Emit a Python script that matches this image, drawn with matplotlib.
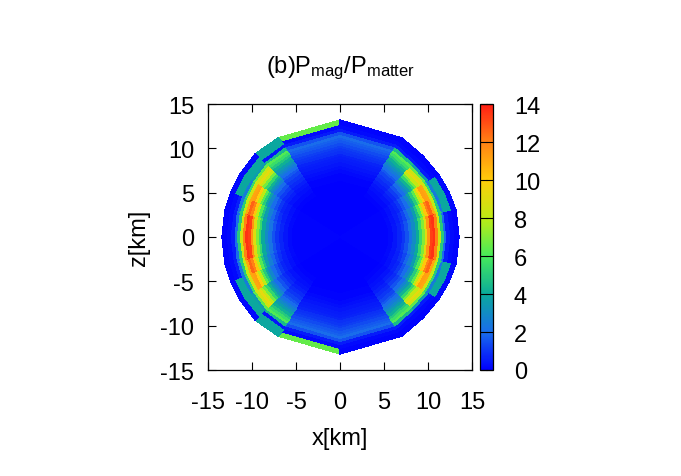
import matplotlib
matplotlib.use("Agg")
import matplotlib.pyplot as plt
import numpy as np
from matplotlib.colors import LinearSegmentedColormap

plt.rcParams['font.family'] = ['Liberation Sans', 'DejaVu Sans']
plt.rcParams['mathtext.fontset'] = 'custom'
plt.rcParams['mathtext.rm'] = 'Liberation Sans'
plt.rcParams['mathtext.default'] = 'regular'
plt.rcParams['axes.unicode_minus'] = False

# wedge edges, degrees from the z axis
theta_edges = [0, 32, 46, 58, 68, 77, 90]
# layer edges in km
r_edges = [0, 5.5, 6, 6.5, 7, 7.4, 7.8, 8.2, 8.6, 9, 9.3, 9.6, 9.9, 10.2, 10.5,
           10.8, 11.1, 11.4, 11.7, 12.0, 12.4, 12.85, 13.3]
# surface radius at each wedge edge
surface_left = [13.2, 13.2, 13.4, 13.4, 13.4, 13.4, 13.4]
surface_right = [13.2, 13.2, 13.1, 13.3, 13.4, 13.5, 13.5]

# inner layers, one row per wedge (pole to equator)
core = [
    [0.0, 0.0, 0.05, 0.1, 0.1, 0.2, 0.3, 0.4, 0.5, 0.6, 0.7, 0.9, 1.0, 1.2, 1.4, 1.6, 1.8, 2.0, 1.5],
    [0.05, 0.1, 0.2, 0.3, 0.4, 0.6, 0.8, 1.0, 1.3, 1.6, 2.0, 2.5, 3.0, 3.6, 4.2, 4.9, 5.6, 6.2, 4.5],
    [0.05, 0.1, 0.2, 0.35, 0.6, 0.8, 1.1, 1.5, 2.0, 2.7, 3.4, 4.3, 5.4, 6.8, 8.2, 9.2, 8.5, 6.5, 3.5],
    [0.1, 0.15, 0.3, 0.5, 0.7, 1.0, 1.5, 2.0, 2.8, 3.8, 5.0, 6.3, 8.0, 10.0, 11.2, 11.0, 8.5, 5.5, 2.5],
    [0.1, 0.2, 0.35, 0.6, 0.9, 1.3, 1.9, 2.6, 3.6, 4.8, 6.2, 8.0, 10.2, 12.0, 12.6, 11.0, 8.0, 5.0, 2.2],
    [0.1, 0.2, 0.4, 0.7, 1.0, 1.5, 2.2, 3.0, 4.0, 5.5, 7.0, 9.0, 11.5, 13.3, 13.6, 12.0, 8.5, 5.0, 2.0],
]
# outer three layers, one row per wedge
shell_left = [
    [0.5, 0.2, 6.5],
    [0.4, 3.9, 3.9],
    [3.9, 3.9, 0.2],
    [3.9, 3.9, 0.2],
    [0.6, 0.2, 0.1],
    [0.5, 0.2, 0.1],
]
shell_right = [
    [0.5, 0.2, 0.1],
    [0.6, 0.2, 0.1],
    [0.5, 0.2, 0.1],
    [3.9, 3.9, 0.2],
    [3.9, 3.9, 0.2],
    [0.5, 0.2, 0.1],
]

bar_colors = [(0, 0, 255), (25, 110, 235), (10, 170, 155), (70, 235, 90),
              (190, 235, 20), (255, 205, 10), (255, 130, 20), (255, 30, 20)]
cmap = LinearSegmentedColormap.from_list("pm3d", [tuple(c / 255 for c in col) for col in bar_colors])


def quadrant(ax, sx, sz, surface, shell):
    th = np.radians(theta_edges)
    scale = np.array(surface) / 13.3
    r = np.array(r_edges)
    x = sx * np.outer(np.sin(th) * scale, r)
    z = sz * np.outer(np.cos(th) * scale, r)
    c = np.hstack([np.array(core), np.array(shell)])
    return ax.pcolormesh(x, z, c, cmap=cmap, vmin=0, vmax=14, shading='flat',
                         edgecolors='face', linewidth=0.2)


fig = plt.figure(figsize=(6.81, 4.77), dpi=100)
W, H = 681.0, 477.0
ax = fig.add_axes([208 / W, 1 - 371 / H, 264 / W, 266 / H])
cax = fig.add_axes([480 / W, 1 - 371 / H, 13 / W, 266 / H])

m = quadrant(ax, -1, 1, surface_left, shell_left)
quadrant(ax, -1, -1, surface_left, shell_left)
quadrant(ax, 1, 1, surface_right, shell_right)
quadrant(ax, 1, -1, surface_right, shell_right)

ax.set_xlim(-15, 15)
ax.set_ylim(-15, 15)
ticks = [-15, -10, -5, 0, 5, 10, 15]
ax.set_xticks(ticks)
ax.set_yticks(ticks)
ax.tick_params(direction='in', top=True, right=True, length=6, width=0.8, labelsize=17, pad=10)
ax.tick_params(axis='x', pad=15)
ax.set_xlabel("x[km]", fontsize=17, labelpad=10)
ax.set_ylabel("z[km]", fontsize=17, labelpad=7)
ax.set_title(r"(b)P$_{mag}$/P$_{matter}$", fontsize=17, pad=23)
for s in ax.spines.values():
    s.set_linewidth(0.9)

cb = fig.colorbar(m, cax=cax)
cb.set_ticks([0, 2, 4, 6, 8, 10, 12, 14])
cb.ax.tick_params(direction='in', left=True, right=True, length=5, width=0.8, labelsize=17, pad=15)
cb.outline.set_linewidth(0.9)

fig.savefig("out.png", dpi=100)
